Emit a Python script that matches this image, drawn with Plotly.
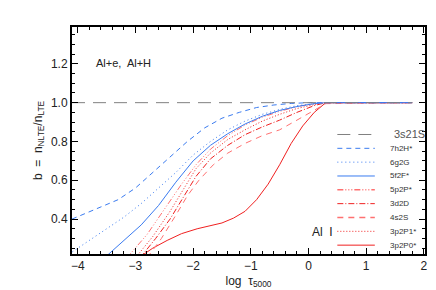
import plotly.graph_objects as go

# ---- data ----
x_3s21S = [-4.1, 1.8]
b_3s21S = [1.0, 1.0]

x_7h2H = [-4.1, -3.6, -3.3, -3.0, -2.7, -2.4, -2.1, -1.8, -1.5, -1.2, -0.9, -0.6, -0.3, 0.0, 0.3, 1.8]
b_7h2H = [0.40, 0.46, 0.50, 0.56, 0.64, 0.72, 0.80, 0.87, 0.92, 0.95, 0.975, 0.988, 0.996, 1.0, 1.0, 1.0]

x_6g2G = [-4.15, -3.8, -3.5, -3.2, -2.9, -2.6, -2.3, -2.0, -1.7, -1.4, -1.1, -0.8, -0.5, -0.2, 0.1, 0.3, 1.8]
b_6g2G = [0.22, 0.29, 0.35, 0.41, 0.48, 0.56, 0.64, 0.73, 0.80, 0.86, 0.905, 0.94, 0.965, 0.985, 0.995, 1.0, 1.0]

x_5f2F = [-3.5, -3.2, -2.9, -2.6, -2.3, -2.0, -1.7, -1.4, -1.1, -0.8, -0.5, -0.2, 0.1, 0.3, 1.8]
b_5f2F = [0.21, 0.29, 0.37, 0.47, 0.59, 0.70, 0.78, 0.84, 0.89, 0.93, 0.96, 0.98, 0.995, 1.0, 1.0]

x_5p2P = [-3.15, -2.8, -2.5, -2.2, -1.95, -1.7, -1.4, -1.1, -0.8, -0.5, -0.2, 0.1, 0.3, 1.8]
b_5p2P = [0.20, 0.32, 0.45, 0.58, 0.68, 0.76, 0.83, 0.885, 0.925, 0.955, 0.98, 0.995, 1.0, 1.0]

x_3d2D = [-2.92, -2.65, -2.4, -2.15, -1.95, -1.7, -1.4, -1.1, -0.8, -0.5, -0.2, 0.1, 0.3, 1.8]
b_3d2D = [0.20, 0.30, 0.40, 0.52, 0.62, 0.71, 0.78, 0.835, 0.875, 0.91, 0.95, 0.985, 1.0, 1.0]

x_4s2S = [-2.8, -2.55, -2.3, -2.1, -1.9, -1.65, -1.4, -1.1, -0.8, -0.5, -0.2, 0.1, 0.3, 1.8]
b_4s2S = [0.20, 0.30, 0.42, 0.52, 0.60, 0.68, 0.74, 0.79, 0.83, 0.86, 0.91, 0.96, 0.995, 1.0]

x_3p2P1 = [-3.0, -2.7, -2.4, -2.15, -1.95, -1.7, -1.4, -1.1, -0.8, -0.5, -0.2, 0.1, 0.3, 1.8]
b_3p2P1 = [0.20, 0.31, 0.44, 0.56, 0.66, 0.74, 0.81, 0.86, 0.905, 0.94, 0.97, 0.99, 1.0, 1.0]

x_3p2P0 = [-2.9, -2.7, -2.45, -2.2, -1.93, -1.7, -1.5, -1.3, -1.1, -0.9, -0.7, -0.5, -0.3, -0.1, 0.1, 0.3, 1.8]
b_3p2P0 = [0.21, 0.25, 0.29, 0.325, 0.35, 0.365, 0.38, 0.405, 0.44, 0.50, 0.58, 0.68, 0.79, 0.88, 0.95, 1.0, 1.0]

level_names = ["3s21S", "7h2H*", "6g2G", "5f2F*", "5p2P*", "3d2D", "4s2S", "3p2P1*", "3p2P0*"]

BLUE = "#3a7bf0"
RED = "#f02020"
LRED = "#ff7070"
GREY = "#808080"

series = [
    (x_3s21S, b_3s21S, GREY, "13px,8px"),
    (x_7h2H, b_7h2H, BLUE, "5px,4px"),
    (x_6g2G, b_6g2G, BLUE, "1px,3px"),
    (x_5f2F, b_5f2F, BLUE, "solid"),
    (x_5p2P, b_5p2P, LRED, "6px,2px,1px,2px,1px,2px,1px,2px"),
    (x_3d2D, b_3d2D, RED, "6px,2px,1px,2px"),
    (x_4s2S, b_4s2S, LRED, "6px,5px"),
    (x_3p2P1, b_3p2P1, RED, "1px,2px"),
    (x_3p2P0, b_3p2P0, RED, "solid"),
]

fig = go.Figure()
draw_order = [8, 7, 6, 5, 4, 3, 2, 1, 0]
for i in draw_order:
    xs, bs, col, dash = series[i]
    fig.add_trace(go.Scatter(x=xs, y=bs, mode="lines", name=level_names[i],
                             line=dict(color=col, width=1, dash=dash),
                             showlegend=False, hoverinfo="skip"))

# manual compact legend (lower right)
leg_top = 0.836
leg_step = 0.0713
for i, name in enumerate(level_names):
    xs, bs, col, dash = series[i]
    yy = leg_top - i * leg_step
    fig.add_shape(type="line", xref="x", yref="y", x0=0.5, x1=1.15, y0=yy, y1=yy,
                  line=dict(color=col, width=1.5 if i in (4, 6) else 1, dash=dash))
    fig.add_annotation(x=1.37 if i > 0 else 1.45, y=yy, xref="x", yref="y", text=name,
                       showarrow=False, xanchor="left", yanchor="middle",
                       font=dict(size=11 if i == 0 else 8, color="#555" if i == 0 else "#333"))

fig.add_annotation(x=-3.72, y=1.205, xref="x", yref="y", text="Al+e,  Al+H",
                   showarrow=False, xanchor="left", font=dict(size=11, color="#222"))
fig.add_annotation(x=0.02, y=0.333, xref="x", yref="y", text="Al  I",
                   showarrow=False, xanchor="left", font=dict(size=12, color="#222"))

axis_common = dict(showgrid=False, zeroline=False, showline=True, linecolor="black",
                   linewidth=2, mirror="ticks", ticks="inside", tickcolor="black",
                   tickwidth=1, ticklen=6, tickfont=dict(size=12, color="#222"))

fig.update_xaxes(range=[-4.1, 2.02], dtick=1, tick0=0,
                 minor=dict(dtick=0.2, ticks="inside", ticklen=3, tickcolor="black"),
                 title=dict(text="log  τ<sub>5000</sub>", font=dict(size=12, color="#222"), standoff=4),
                 tickformat="d", **axis_common)
fig.update_yaxes(range=[0.22, 1.39], dtick=0.2, tick0=0,
                 minor=dict(dtick=0.05, ticks="inside", ticklen=3, tickcolor="black"),
                 title=dict(text="b  =  n<sub>NLTE</sub>/n<sub>LTE</sub>", font=dict(size=12, color="#222"), standoff=6),
                 tickformat=".1f", **axis_common)

fig.update_layout(width=436, height=290, margin=dict(l=64, r=19, t=19, b=41),
                  paper_bgcolor="white", plot_bgcolor="white",
                  font=dict(family="Liberation Sans, Arial, sans-serif"))

fig.write_html("out.html")
